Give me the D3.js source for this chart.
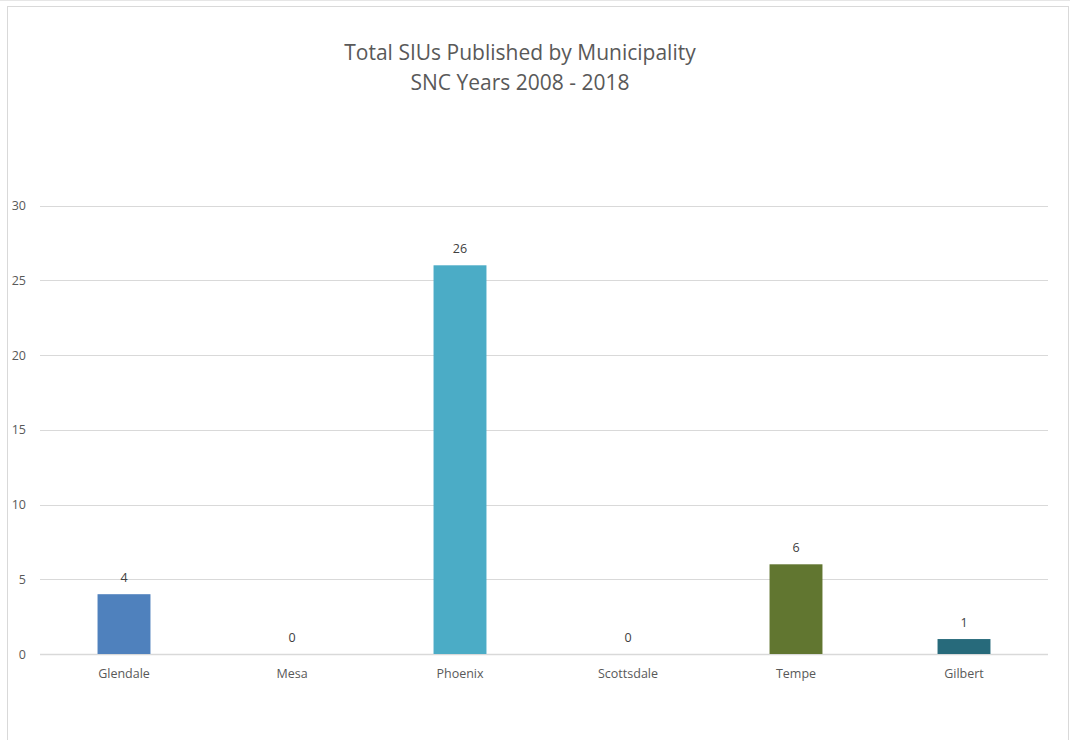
<!DOCTYPE html>
<html lang="en">
<head>
    <meta charset="UTF-8">
    <title>Total SIUs Published by Municipality</title>
    <script src="https://d3js.org/d3.v7.min.js"></script>
    <style>
        body { margin:0; background:#fff; }
        svg { position:absolute; top:0; left:0; }
        text { font-family: "Open Sans", "Liberation Sans", sans-serif; }
    </style>
</head>
<body>
<svg width="1070" height="740"></svg>
<script>
    // data
    var municipalities = ["Glendale", "Mesa", "Phoenix", "Scottsdale", "Tempe", "Gilbert"];
    var sius = [4, 0, 26, 0, 6, 1];
    var barColors = ["#4f81bd", "#4f81bd", "#4bacc6", "#4bacc6", "#617630", "#276a7b"];
    var yTicks = [0, 5, 10, 15, 20, 25, 30];
    var titleLines = ["Total SIUs Published by Municipality", "SNC Years 2008 - 2018"];

    var svg = d3.select("svg");

    // chart frame
    svg.append("line")
        .attr("x1", 0).attr("x2", 1070).attr("y1", 0.5).attr("y2", 0.5)
        .attr("stroke", "#e6e6e6");
    svg.append("rect")
        .attr("x", 7.5).attr("y", 6.5).attr("width", 1061).attr("height", 740)
        .attr("fill", "#fff").attr("stroke", "#d9d9d9");

    var x = d3.scaleBand()
        .domain(municipalities)
        .range([40, 1048])
        .paddingInner(0.685)
        .paddingOuter(0.3425);

    var y = d3.scaleLinear()
        .domain([0, 30])
        .range([654, 205.5]);

    // title
    svg.append("g").selectAll("text")
        .data(titleLines)
        .enter().append("text")
        .attr("x", 520)
        .attr("y", function(d, i) { return 60 + i * 30; })
        .attr("text-anchor", "middle")
        .attr("font-size", 21)
        .attr("fill", "#595959")
        .text(function(d) { return d; });

    // gridlines
    svg.append("g").selectAll("line")
        .data(yTicks)
        .enter().append("line")
        .attr("x1", 40).attr("x2", 1048)
        .attr("y1", function(d) { return Math.round(y(d)) + 0.5; })
        .attr("y2", function(d) { return Math.round(y(d)) + 0.5; })
        .attr("stroke", "#d9d9d9")
        .attr("stroke-width", function(d) { return d === 0 ? 1.5 : 1; });

    // y axis labels
    var yAxis = d3.axisLeft(y).tickValues(yTicks).tickSize(0).tickPadding(0);
    var ya = svg.append("g")
        .attr("transform", "translate(26,0)")
        .call(yAxis);
    ya.select(".domain").remove();
    ya.selectAll("text")
        .attr("font-size", 12.5)
        .attr("fill", "#595959")
        .attr("text-anchor", "end");

    // bars
    svg.append("g").selectAll("rect")
        .data(sius)
        .enter().append("rect")
        .attr("x", function(d, i) { return x(municipalities[i]); })
        .attr("width", x.bandwidth())
        .attr("y", function(d) { return y(d); })
        .attr("height", function(d) { return y(0) - y(d); })
        .attr("fill", function(d, i) { return barColors[i]; });

    // data labels
    svg.append("g").selectAll("text")
        .data(sius)
        .enter().append("text")
        .attr("x", function(d, i) { return x(municipalities[i]) + x.bandwidth() / 2; })
        .attr("y", function(d) { return y(d) - 12; })
        .attr("text-anchor", "middle")
        .attr("font-size", 12.5)
        .attr("fill", "#404040")
        .text(function(d) { return d; });

    // x axis labels
    var xAxis = d3.axisBottom(x).tickSize(0).tickPadding(0);
    var xa = svg.append("g")
        .attr("transform", "translate(0,669)")
        .call(xAxis);
    xa.select(".domain").remove();
    xa.selectAll("text")
        .attr("font-size", 12.5)
        .attr("fill", "#595959");
</script>
</body>
</html>
